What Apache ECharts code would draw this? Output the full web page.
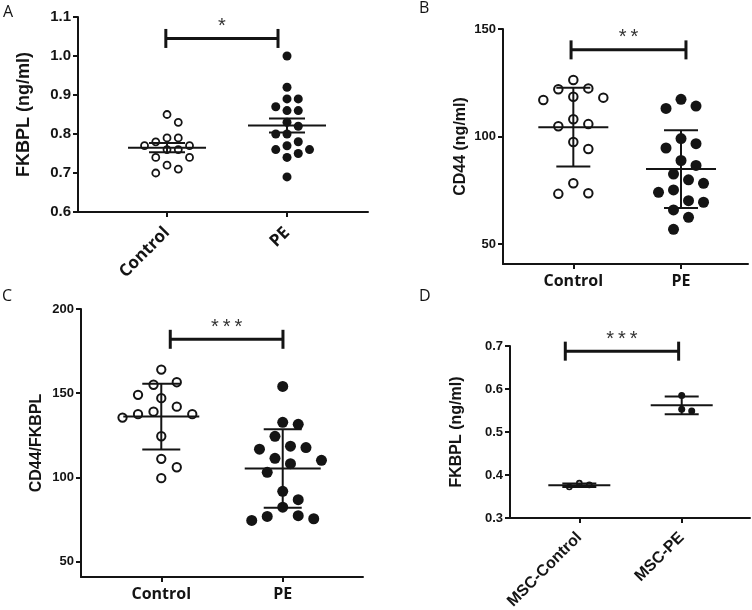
<!DOCTYPE html>
<html><head><meta charset="utf-8">
<script src="https://cdn.jsdelivr.net/npm/echarts@6/dist/echarts.min.js"></script>
<style>html,body{margin:0;padding:0;background:#fff}#c{width:752px;height:610px}</style>
</head><body><div id="c"></div>
<script>
// ---------------- data ----------------
const groupsAB = ['Control', 'PE'];
const groupsD = ['MSC-Control', 'MSC-PE'];

// Panel A: FKBPL (ng/ml), mean ± SEM
const A_control = [0.85, 0.83, 0.79, 0.78, 0.79, 0.77, 0.77, 0.76, 0.76, 0.74, 0.74, 0.72, 0.71, 0.70];
const A_pe = [1.00, 0.92, 0.89, 0.89, 0.87, 0.86, 0.86, 0.83, 0.82, 0.80, 0.80, 0.78, 0.77, 0.76, 0.76, 0.75, 0.74, 0.69];
const A_mean = [0.765, 0.822];
const A_err = [0.012, 0.018];
const A_ticks = [0.6, 0.7, 0.8, 0.9, 1.0, 1.1];

// Panel B: CD44 (ng/ml), mean ± SD
const B_control = [126.3, 122.0, 122.4, 118.1, 117.0, 118.5, 108.1, 104.8, 105.8, 97.5, 94.2, 78.3, 73.4, 73.7];
const B_pe = [114.2, 113.1, 117.3, 99.1, 94.7, 96.7, 86.6, 82.6, 88.9, 78.3, 79.9, 74.1, 75.2, 69.5, 70.2, 65.9, 62.5, 56.9];
const B_mean = [104.4, 84.9];
const B_err = [18.3, 18.1];
const B_ticks = [50, 100, 150];

// Panel C: CD44/FKBPL, mean ± SD
const C_control = [164.0, 155.0, 156.5, 147.0, 149.0, 139.0, 137.5, 135.5, 137.5, 142.0, 124.4, 111.0, 106.0, 99.5];
const C_pe = [154.0, 131.5, 132.7, 124.4, 117.7, 116.7, 118.5, 110.1, 111.3, 108.1, 103.0, 91.7, 86.7, 82.3, 76.8, 74.4, 75.4, 77.2];
const C_mean = [136.1, 105.2];
const C_err = [19.5, 23.3];
const C_ticks = [50, 100, 150, 200];

// Panel D: FKBPL (ng/ml) in MSC, mean ± SD
const D_control = [0.381, 0.372, 0.377];
const D_pe = [0.585, 0.549, 0.553];
const D_mean = [0.376, 0.562];
const D_err = [0.004, 0.0205];
const D_ticks = [0.3, 0.4, 0.5, 0.6, 0.7];

const sigLabels = ['*', '*\u2009*', '*\u2009*\u2009*', '*\u2009*\u2009*'];

// ---------------- layout / style ----------------
const INK = '#141414';
const panels = [
  { letter: 'A', lx: 3, ly: 4, grid: { left: 78, top: 17, width: 290, height: 195 }, xr: [0.258, 2.675], yr: [0.6, 1.1],
    ticks: A_ticks, dec: 1, names: groupsAB, ctrl: A_control, pe: A_pe, mean: A_mean, err: A_err,
    yname: 'FKBPL (ng/ml)', ynameSize: 18, ynameGap: 45, tickSize: 15, rot: 45, xfont: 'Open Sans', xweight: 'bold', xsize: 17, xmargin: 18,
    sym: 7, symPe: 9, bw: 1.8, spacing: 11.25, meanHalf: 39, capHalf: 18, bracket: [0.99, 1.925, 1.045], sig: 0 },
  { letter: 'B', lx: 419, ly: 0, grid: { left: 503, top: 29, width: 245, height: 235 }, xr: [0.347, 2.622], yr: [40.8, 150],
    ticks: B_ticks, dec: 0, names: groupsAB, ctrl: B_control, pe: B_pe, mean: B_mean, err: B_err,
    yname: 'CD44 (ng/ml)', ynameSize: 16, ynameGap: 34, tickSize: 13, rot: 0, xfont: 'Open Sans', xweight: 'bold', xsize: 16, xmargin: 9,
    sym: 8.5, symPe: 11, bw: 2, spacing: 15, meanHalf: 35, capHalf: 17, bracket: [0.979, 2.046, 140.3], sig: 1 },
  { letter: 'C', lx: 2, ly: 288, grid: { left: 81, top: 309, width: 282, height: 268 }, xr: [0.339, 2.661], yr: [40.8, 200],
    ticks: C_ticks, dec: 0, names: groupsAB, ctrl: C_control, pe: C_pe, mean: C_mean, err: C_err,
    yname: 'CD44/FKBPL', ynameSize: 16, ynameGap: 36, tickSize: 13, rot: 0, xfont: 'Open Sans', xweight: 'bold', xsize: 16, xmargin: 9,
    sym: 8.3, symPe: 11, bw: 2, spacing: 15.5, meanHalf: 38, capHalf: 19, bracket: [1.074, 2.002, 182], sig: 2 },
  { letter: 'D', lx: 419, ly: 288, grid: { left: 510, top: 346, width: 240, height: 172 }, xr: [0.323, 2.667], yr: [0.3, 0.7],
    ticks: D_ticks, dec: 1, names: groupsD, ctrl: D_control, pe: D_pe, mean: D_mean, err: D_err,
    yname: 'FKBPL (ng/ml)', ynameSize: 16, ynameGap: 45, tickSize: 13, rot: 45, xfont: 'Liberation Sans', xweight: 'bold', xsize: 16, xmargin: 17,
    sym: 5, symPe: 7, bw: 1.6, spacing: 10, meanHalf: 31, capHalf: 17, bracket: [0.863, 1.97, 0.688], sig: 3 }
];

// horizontal spreading of points (beeswarm on a half-step grid), computed in pixels
function swarm(values, pxPerY, spacing) {
  const h = spacing / 2, D = spacing * 0.98;
  const order = values.map((v, i) => i).sort((a, b) => values[b] - values[a]);
  const placed = [], off = new Array(values.length).fill(0);
  for (const i of order) {
    const y = values[i] * pxPerY;
    for (let k = 0; k < 400; k++) {
      const slot = k === 0 ? 0 : (k % 2 === 1 ? (k + 1) / 2 : -k / 2);
      const x = slot * h;
      if (placed.every(p => Math.hypot(p.x - x, p.y - y) >= D)) { off[i] = x; placed.push({ x, y }); break; }
    }
  }
  return off;
}

const option = { animation: false, backgroundColor: '#fff', grid: [], xAxis: [], yAxis: [], series: [], graphic: [] };

panels.forEach((p, gi) => {
  option.grid.push(Object.assign({ containLabel: false, outerBoundsMode: 'none' }, p.grid));
  const lineStyle = { color: INK, width: 2 };
  option.xAxis.push({
    type: 'value', gridIndex: gi, min: p.xr[0], max: p.xr[1], splitLine: { show: false },
    axisLine: { show: true, onZero: false, lineStyle },
    axisTick: { show: true, customValues: [1, 2], length: 5, lineStyle },
    axisLabel: { customValues: [1, 2], formatter: v => '{t|' + p.names[Math.round(v) - 1] + '}', rotate: p.rot, margin: p.xmargin,
      rich: { t: { color: INK, fontFamily: p.xfont, fontWeight: p.xweight, fontSize: p.xsize } } }
  });
  option.yAxis.push({
    type: 'value', gridIndex: gi, min: p.yr[0], max: p.yr[1], splitLine: { show: false },
    axisLine: { show: true, lineStyle },
    axisTick: { show: true, customValues: p.ticks, length: 5, lineStyle },
    axisLabel: { customValues: p.ticks, formatter: v => '{t|' + v.toFixed(p.dec) + '}', margin: 7,
      rich: { t: { color: INK, fontFamily: 'Liberation Sans', fontWeight: 'bold', fontSize: p.tickSize } } },
    name: p.yname, nameLocation: 'middle', nameGap: p.ynameGap,
    nameTextStyle: { color: INK, fontFamily: 'Liberation Sans', fontWeight: 'bold', fontSize: p.ynameSize }
  });
  const pxPerY = p.grid.height / (p.yr[1] - p.yr[0]);
  const pxPerX = p.grid.width / (p.xr[1] - p.xr[0]);
  const offC = swarm(p.ctrl, pxPerY, p.spacing);
  const offP = swarm(p.pe, pxPerY, p.spacing);
  option.series.push({
    type: 'scatter', xAxisIndex: gi, yAxisIndex: gi, symbol: 'circle', symbolSize: p.sym, z: 2,
    itemStyle: { color: '#fff', borderColor: INK, borderWidth: p.bw, opacity: 1 },
    data: p.ctrl.map((v, i) => [1 + offC[i] / pxPerX, v])
  });
  option.series.push({
    type: 'scatter', xAxisIndex: gi, yAxisIndex: gi, symbol: 'circle', symbolSize: p.symPe, z: 2,
    itemStyle: { color: INK, opacity: 1 },
    data: p.pe.map((v, i) => [2 + offP[i] / pxPerX, v])
  });
  option.series.push({
    type: 'custom', xAxisIndex: gi, yAxisIndex: gi, z: 4, clip: false,
    data: p.mean.map((m, i) => [i + 1, m, p.err[i]]),
    renderItem: (params, api) => {
      const x = api.value(0), m = api.value(1), e = api.value(2);
      const pm = api.coord([x, m]), pt = api.coord([x, m + e]), pb = api.coord([x, m - e]);
      const st = { stroke: INK, lineWidth: 2 };
      return { type: 'group', children: [
        { type: 'line', shape: { x1: pm[0] - p.meanHalf, y1: pm[1], x2: pm[0] + p.meanHalf, y2: pm[1] }, style: st },
        { type: 'line', shape: { x1: pt[0], y1: pt[1], x2: pb[0], y2: pb[1] }, style: st },
        { type: 'line', shape: { x1: pt[0] - p.capHalf, y1: pt[1], x2: pt[0] + p.capHalf, y2: pt[1] }, style: st },
        { type: 'line', shape: { x1: pb[0] - p.capHalf, y1: pb[1], x2: pb[0] + p.capHalf, y2: pb[1] }, style: st }
      ] };
    }
  });
  option.series.push({
    type: 'custom', xAxisIndex: gi, yAxisIndex: gi, z: 4, clip: false,
    encode: { x: [0, 1], y: 2 },
    data: [[p.bracket[0], p.bracket[1], p.bracket[2]]],
    renderItem: (params, api) => {
      const a = api.coord([api.value(0), api.value(2)]), b = api.coord([api.value(1), api.value(2)]);
      const st = { stroke: INK, lineWidth: 3 };
      return { type: 'group', children: [
        { type: 'line', shape: { x1: a[0], y1: a[1], x2: b[0], y2: b[1] }, style: st },
        { type: 'line', shape: { x1: a[0], y1: a[1] - 9.5, x2: a[0], y2: a[1] + 9.5 }, style: st },
        { type: 'line', shape: { x1: b[0], y1: b[1] - 9.5, x2: b[0], y2: b[1] + 9.5 }, style: st },
        { type: 'text', x: (a[0] + b[0]) / 2, y: a[1] - 12, style: { text: sigLabels[p.sig], fill: '#333',
          font: '20px "Liberation Sans"', align: 'center', verticalAlign: 'middle' } }
      ] };
    }
  });
  option.graphic.push({ type: 'text', left: p.lx, top: p.ly,
    style: { text: p.letter, fill: INK, font: '16px "Open Sans"' } });
});

const chart = echarts.init(document.getElementById('c'), null, { renderer: 'canvas', width: 752, height: 610 });
chart.setOption(option);
</script>
</body></html>
